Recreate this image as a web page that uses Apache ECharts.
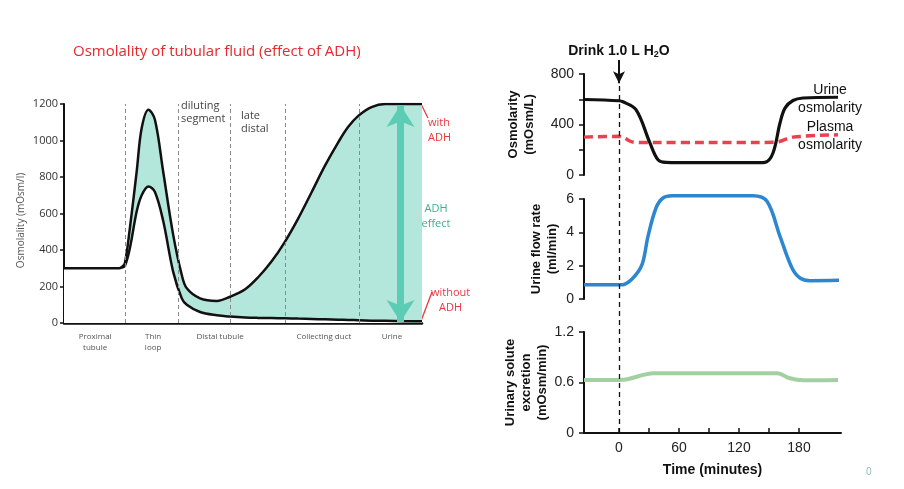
<!DOCTYPE html>
<html>
<head>
<meta charset="utf-8">
<title>Osmolality and water diuresis</title>
<script src="https://cdn.jsdelivr.net/npm/echarts@6/dist/echarts.min.js"></script>
<style>
  html, body { margin: 0; padding: 0; background: #fff; }
  #chart { width: 904px; height: 489px; }
</style>
</head>
<body>
<div id="chart"></div>
<script>
// ---- left panel: position along the nephron (0..100) vs osmolality (mOsm/l)
const nephronPos = [0, 15.5, 16.1, 17.0, 18.4, 20.3, 21.7, 23.6, 25.4, 27.7, 30.5, 32.9, 34.3, 38.0, 42.7, 46.4, 50.6, 54.3, 58.0, 61.7, 65.4, 69.2, 72.9, 76.6, 79.4, 82.2, 85.9, 89.7, 95, 100];
const withADH = [300, 300, 306, 328, 520, 830, 1068, 1169, 1114, 830, 483, 263, 190, 135, 121, 144, 185, 252, 338, 445, 572, 718, 862, 990, 1075, 1135, 1183, 1200, 1200, 1200];
const withoutADH = [300, 300, 303, 312, 410, 611, 700, 748, 718, 560, 280, 135, 100, 60, 42, 35, 30, 28, 27, 26, 24, 22, 20, 18, 17, 15, 13, 12, 10, 9];
const segmentBounds = [17.0, 31.8, 46.4, 61.7, 82.4];
const segmentMids = [8.7, 24.9, 43.6, 72.6, 91.6];
const segmentNames = ['Proximal\ntubule', 'Thin\nloop', 'Distal tubule', 'Collecting duct', 'Urine'];

// ---- right panels: time after drinking (minutes)
const urineOsmT = [-35, 0, 4, 17, 31, 39, 47, 60, 100, 140, 146, 154, 161, 166, 174, 184, 219];
const urineOsm = [598, 588, 580, 517, 253, 121, 100, 98, 98, 98, 100, 174, 412, 530, 590, 610, 616];
const plasmaOsmT = [-35, 0, 16, 60, 120, 156, 174, 219];
const plasmaOsm = [300, 306, 258, 258, 258, 259, 300, 318];
const flowT = [-35, 0, 4, 14, 23, 29, 37, 44, 53, 134, 148, 161, 173, 181, 191, 220];
const flowRate = [0.86, 0.85, 0.86, 1.26, 2.06, 3.76, 5.46, 6.06, 6.2, 6.2, 5.86, 3.76, 1.86, 1.26, 1.1, 1.12];
const soluteT = [-35, 0, 7, 21, 34, 158, 171, 184, 219];
const soluteExc = [0.63, 0.63, 0.635, 0.68, 0.71, 0.71, 0.65, 0.626, 0.63];
const timeTicks = [0, 30, 60, 90, 120, 150, 180];
const timeLabels = [0, 60, 120, 180];

const LF = '"Open Sans", sans-serif';
const RF = '"Liberation Sans", Arial, sans-serif';

const pairs = (xs, ys) => xs.map((x, i) => [x, ys[i]]);

function timeAxis(gridIndex, visible) {
  return {
    type: 'value', gridIndex, min: -35, max: 222, show: visible,
    name: visible ? 'Time (minutes)' : '', nameLocation: 'middle', nameGap: 30,
    nameTextStyle: { fontFamily: RF, fontWeight: 'bold', fontSize: 14, color: '#111' },
    axisLine: { show: true, onZero: false, lineStyle: { color: '#111', width: 2 } },
    axisTick: { show: true, inside: true, length: 5, customValues: timeTicks, lineStyle: { color: '#111', width: 1.5 } },
    axisLabel: { customValues: timeLabels, fontFamily: RF, fontSize: 14, color: '#222', margin: 8 },
    splitLine: { show: false }
  };
}

function rightY(gridIndex, max, interval, name, nameGap, fmt) {
  return {
    type: 'value', gridIndex, min: 0, max, interval,
    name, nameLocation: 'middle', nameGap,
    nameTextStyle: { fontFamily: RF, fontWeight: 'bold', fontSize: 13, color: '#111', lineHeight: 16 },
    axisLine: { show: true, onZero: false, lineStyle: { color: '#111', width: 2 } },
    axisTick: { show: true, length: 5, lineStyle: { color: '#111', width: 1.5 } },
    axisLabel: { fontFamily: RF, fontSize: 14, color: '#222', margin: 10, formatter: fmt },
    splitLine: { show: false }
  };
}

const chart = echarts.init(document.getElementById('chart'));

chart.setOption({
  animation: false,
  backgroundColor: '#fff',
  grid: [
    { left: 64, right: 482, top: 104, bottom: 166 },
    { left: 584, right: 63, top: 74, height: 101 },
    { left: 584, right: 63, top: 199, height: 100 },
    { left: 584, right: 63, top: 332, height: 101 },
    { left: 584, right: 63, top: 60, bottom: 56 }
  ],
  xAxis: [
    {
      type: 'value', gridIndex: 0, min: 0, max: 100,
      axisLine: { show: true, onZero: false, lineStyle: { color: '#111', width: 2.5 } },
      axisTick: { show: false },
      axisLabel: {
        customValues: segmentMids, fontFamily: LF, fontSize: 8, color: '#555', lineHeight: 11, margin: 8,
        formatter: v => segmentNames[segmentMids.indexOf(v)] || ''
      },
      splitLine: { show: false }
    },
    timeAxis(1, false),
    timeAxis(2, false),
    timeAxis(3, true),
    { type: 'value', gridIndex: 4, min: -35, max: 222, show: false }
  ],
  yAxis: [
    {
      type: 'value', gridIndex: 0, min: 0, max: 1200, interval: 200,
      name: 'Osmolality (mOsm/l)', nameLocation: 'middle', nameGap: 38,
      nameTextStyle: { fontFamily: LF, fontSize: 10, color: '#555', padding: [0, 0, 0, -14] },
      axisLine: { show: true, onZero: false, lineStyle: { color: '#111', width: 2 } },
      axisTick: { show: true, length: 4, lineStyle: { color: '#111', width: 1.5 } },
      axisLabel: { fontFamily: LF, fontSize: 11, color: '#333', margin: 6, formatter: v => String(v) },
      splitLine: { show: false }
    },
    rightY(1, 800, 200, 'Osmolarity\n(mOsm/L)', 47, v => (v % 400 === 0 ? v : '')),
    rightY(2, 6, 2, 'Urine flow rate\n(ml/min)', 24),
    rightY(3, 1.2, 0.6, 'Urinary solute\nexcretion\n(mOsm/min)', 33),
    { type: 'value', gridIndex: 4, min: 0, max: 100, show: false }
  ],
  series: [
    {
      // upper curve, filled down to the axis
      name: 'with ADH', type: 'line', xAxisIndex: 0, yAxisIndex: 0, z: 2,
      smooth: 0.35, symbol: 'none',
      data: pairs(nephronPos, withADH),
      lineStyle: { color: '#111', width: 2.5 },
      areaStyle: { color: '#b3e7db', opacity: 1 }
    },
    {
      // lower curve, white fill underneath leaves only the ADH band coloured
      name: 'without ADH', type: 'line', xAxisIndex: 0, yAxisIndex: 0, z: 3,
      smooth: 0.35, symbol: 'none',
      data: pairs(nephronPos, withoutADH),
      lineStyle: { color: '#111', width: 2.5 },
      areaStyle: { color: '#fff', opacity: 1 }
    },
    {
      name: 'segments', type: 'line', xAxisIndex: 0, yAxisIndex: 0, z: 6,
      data: [], symbol: 'none', silent: true,
      markLine: {
        silent: true, symbol: 'none', label: { show: false }, z: 6,
        lineStyle: { color: '#8a8a8a', width: 1, type: [4, 3] },
        data: segmentBounds.map(x => ({ xAxis: x })).concat([
          [
            { coord: [94, 1195], symbol: 'arrow', symbolSize: [21, 22], lineStyle: { color: '#5ccdb4', width: 7, type: 'solid' } },
            { coord: [94, 6], symbol: 'arrow', symbolSize: [21, 22] }
          ]
        ])
      }
    },
    {
      name: 'Urine osmolarity', type: 'line', xAxisIndex: 1, yAxisIndex: 1, z: 4,
      smooth: 0.35, symbol: 'none', data: pairs(urineOsmT, urineOsm),
      lineStyle: { color: '#111', width: 3.2 }
    },
    {
      name: 'Plasma osmolarity', type: 'line', xAxisIndex: 1, yAxisIndex: 1, z: 3,
      smooth: 0.35, symbol: 'none', data: pairs(plasmaOsmT, plasmaOsm),
      lineStyle: { color: '#e8414f', width: 3.5, type: [9, 5] }
    },
    {
      name: 'Urine flow rate', type: 'line', xAxisIndex: 2, yAxisIndex: 2, clip: false,
      smooth: 0.35, symbol: 'none', data: pairs(flowT, flowRate),
      lineStyle: { color: '#2d86d0', width: 3.5 }
    },
    {
      name: 'Urinary solute excretion', type: 'line', xAxisIndex: 3, yAxisIndex: 3,
      smooth: 0.35, symbol: 'none', data: pairs(soluteT, soluteExc),
      lineStyle: { color: '#a3d0a0', width: 4 }
    },
    {
      name: 'drink marker', type: 'line', xAxisIndex: 4, yAxisIndex: 4,
      data: [[0, 0]], symbol: 'none', lineStyle: { opacity: 0 }, silent: true,
      markLine: {
        silent: true, symbol: 'none', label: { show: false },
        data: [
          [
            { coord: [0, 0], lineStyle: { color: '#111', width: 1.3, type: [5, 4] } },
            { coord: [0, 93] }
          ],
          [
            { coord: [0, 100], symbol: 'none', lineStyle: { color: '#111', width: 2, type: 'solid' } },
            { coord: [0, 93.8], symbol: 'arrow', symbolSize: [9, 12] }
          ]
        ]
      }
    }
  ],
  graphic: [
    { type: 'text', left: 73, top: 44, style: { text: 'Osmolality of tubular fluid (effect of ADH)', fill: '#e8282e', font: '15px "Open Sans", sans-serif' } },
    { type: 'text', x: 181, y: 100, style: { text: 'diluting\nsegment', fill: '#444', font: '11px "Open Sans", sans-serif', lineHeight: 12.5 } },
    { type: 'text', x: 241, y: 110, style: { text: 'late\ndistal', fill: '#444', font: '11px "Open Sans", sans-serif', lineHeight: 12.5 } },
    { type: 'text', x: 428, y: 115, style: { text: 'with\nADH', fill: '#e8393f', font: '11px "Open Sans", sans-serif', lineHeight: 15, align: 'left' } },
    { type: 'text', x: 436, y: 201, style: { text: 'ADH\neffect', fill: '#3bb08f', font: '11px "Open Sans", sans-serif', lineHeight: 15, align: 'center' } },
    { type: 'text', x: 431, y: 287, style: { text: 'without', fill: '#e8393f', font: '11px "Open Sans", sans-serif' } },
    { type: 'text', x: 462, y: 302, style: { text: 'ADH', fill: '#e8393f', font: '11px "Open Sans", sans-serif', align: 'right' } },
    { type: 'polyline', shape: { points: [[421, 104], [428, 118]] }, style: { stroke: '#e8393f', lineWidth: 1.3, fill: null } },
    { type: 'polyline', shape: { points: [[421, 321], [432, 292]] }, style: { stroke: '#e8393f', lineWidth: 1.3, fill: null } },
    {
      type: 'text', x: 619, y: 51,
      style: {
        text: '{a|Drink 1.0 L H}{s|2}{a|O}', align: 'center', verticalAlign: 'middle',
        rich: {
          a: { fontFamily: RF, fontWeight: 'bold', fontSize: 14, fill: '#111', lineHeight: 16 },
          s: { fontFamily: RF, fontWeight: 'bold', fontSize: 9, fill: '#111', lineHeight: 9, verticalAlign: 'bottom', padding: [5, 0, 0, 0] }
        }
      }
    },
    { type: 'text', x: 830, y: 81, style: { text: 'Urine\nosmolarity', align: 'center', fill: '#111', font: '14px "Liberation Sans", Arial, sans-serif', lineHeight: 18 } },
    { type: 'text', x: 830, y: 118, style: { text: 'Plasma\nosmolarity', align: 'center', fill: '#111', font: '14px "Liberation Sans", Arial, sans-serif', lineHeight: 18 } },
    { type: 'text', x: 866, y: 467, style: { text: '0', fill: '#8db4b9', font: '10px "Open Sans", sans-serif' } }
  ]
});
</script>
</body>
</html>
